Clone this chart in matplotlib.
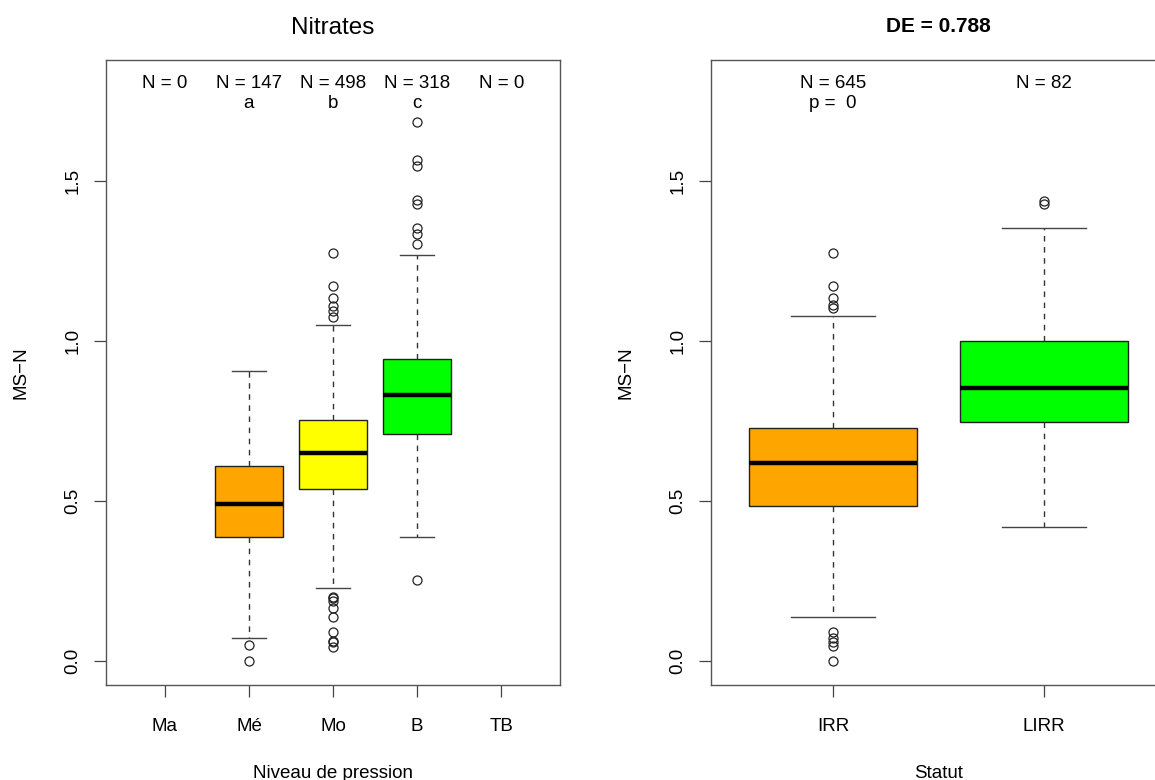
import matplotlib
matplotlib.use("Agg")
import matplotlib.pyplot as plt

plt.rcParams['font.family'] = ['Liberation Sans', 'DejaVu Sans']

# Left panel: Nitrates by pressure level
niveaux = ["Ma", "Mé", "Mo", "B", "TB"]
n_niveaux = [0, 147, 498, 318, 0]
lettres = ["", "a", "b", "c", ""]
# only Mé, Mo, B have data
niv_pos = [2, 3, 4]
niv_colors = ["#FFA500", "#FFFF00", "#00FF00"]
niv_q1 = [0.388, 0.538, 0.708]
niv_med = [0.490, 0.649, 0.832]
niv_q3 = [0.609, 0.752, 0.944]
niv_whislo = [0.071, 0.229, 0.388]
niv_whishi = [0.906, 1.050, 1.269]
niv_fliers = [
    [0.05, 0.0],
    [0.201, 0.196, 0.189, 0.165, 0.137, 0.09, 0.063, 0.058, 0.045,
     1.076, 1.095, 1.109, 1.133, 1.172, 1.274],
    [0.254, 1.302, 1.333, 1.352, 1.428, 1.44, 1.547, 1.566, 1.685],
]

# Right panel: status
statuts = ["IRR", "LIRR"]
n_statuts = [645, 82]
stat_colors = ["#FFA500", "#00FF00"]
stat_q1 = [0.484, 0.748]
stat_med = [0.620, 0.852]
stat_q3 = [0.727, 1.0]
stat_whislo = [0.139, 0.42]
stat_whishi = [1.078, 1.352]
stat_fliers = [
    [1.274, 1.172, 1.133, 1.112, 1.102, 0.092, 0.071, 0.060, 0.047, 0.0],
    [1.438, 1.428],
]

ylim = (-0.075, 1.878)
fs = 13.5


def make_stats(q1, med, q3, lo, hi, fl):
    return [dict(q1=a, med=b, q3=c, whislo=d, whishi=e, fliers=f)
            for a, b, c, d, e, f in zip(q1, med, q3, lo, hi, fl)]


def draw_box(ax, stats, pos, colors):
    bp = ax.bxp(stats, positions=pos, widths=0.8, capwidths=0.4,
                patch_artist=True, showfliers=True,
                boxprops=dict(edgecolor="#222222", linewidth=1.0),
                medianprops=dict(color="black", linewidth=3.2, solid_capstyle="butt"),
                whiskerprops=dict(color="#333333", linewidth=1.0, linestyle=(0, (4, 4))),
                capprops=dict(color="#444444", linewidth=1.0),
                flierprops=dict(marker="o", markerfacecolor="none",
                                markeredgecolor="#222222", markersize=6.5,
                                markeredgewidth=0.9))
    for patch, c in zip(bp["boxes"], colors):
        patch.set_facecolor(c)


def style_axes(ax):
    ax.set_ylim(*ylim)
    ax.set_yticks([0.0, 0.5, 1.0, 1.5])
    ax.set_yticklabels(["0.0", "0.5", "1.0", "1.5"], rotation=90, va="center")
    ax.tick_params(axis="both", direction="out", length=8.5, width=0.9,
                   color="#444444", labelsize=fs)
    ax.tick_params(axis="y", pad=9)
    ax.tick_params(axis="x", pad=15)
    for s in ax.spines.values():
        s.set_color("#555555")
        s.set_linewidth(1.0)
    ax.set_ylabel("MS\u2212N", fontsize=fs)
    ax.yaxis.set_label_coords(-0.168, 0.5)


fig = plt.figure(figsize=(11.55, 7.8), dpi=100)

ax1 = fig.add_axes([0.0918, 0.1218, 0.3931, 0.8013])
draw_box(ax1, make_stats(niv_q1, niv_med, niv_q3, niv_whislo, niv_whishi, niv_fliers),
         niv_pos, niv_colors)
ax1.set_xlim(0.3, 5.7)
ax1.set_xticks(range(1, len(niveaux) + 1))
ax1.set_xticklabels(niveaux)
style_axes(ax1)
for i, (n, l) in enumerate(zip(n_niveaux, lettres)):
    ax1.text(i + 1, 1.806, f"N = {n}", ha="center", va="center", fontsize=fs)
    if l:
        ax1.text(i + 1, 1.741, l, ha="center", va="center", fontsize=fs)
ax1.set_title("Nitrates", fontsize=17.5, pad=19)
ax1.set_xlabel("Niveau de pression", fontsize=fs, labelpad=22)

ax2 = fig.add_axes([0.6156, 0.1218, 0.3939, 0.8013])
draw_box(ax2, make_stats(stat_q1, stat_med, stat_q3, stat_whislo, stat_whishi, stat_fliers),
         [1, 2], stat_colors)
ax2.set_xlim(0.42, 2.58)
ax2.set_xticks([1, 2])
ax2.set_xticklabels(statuts)
style_axes(ax2)
for i, n in enumerate(n_statuts):
    ax2.text(i + 1, 1.806, f"N = {n}", ha="center", va="center", fontsize=fs)
ax2.text(1, 1.741, "p =  0", ha="center", va="center", fontsize=fs)
ax2.set_title("DE = 0.788", fontsize=15, fontweight="bold", pad=20)
ax2.set_xlabel("Statut", fontsize=fs, labelpad=22)

fig.savefig("out.png", dpi=100)
